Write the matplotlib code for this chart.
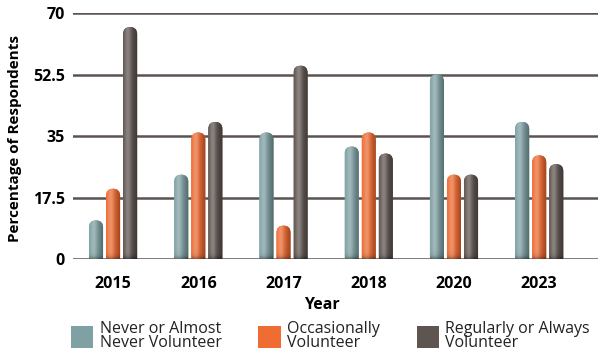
import numpy as np
import matplotlib
matplotlib.use("Agg")
import matplotlib.pyplot as plt
from matplotlib.patches import FancyBboxPatch, Patch
from matplotlib.colors import to_rgb

years = ["2015", "2016", "2017", "2018", "2020", "2023"]
never = [11, 24, 36, 32, 52.5, 39]
occasionally = [20, 36, 9.5, 36, 24, 29.5]
regularly = [66, 39, 55, 30, 24, 27]
series_names = ["Never or Almost\nNever Volunteer", "Occasionally\nVolunteer", "Regularly or Always\nVolunteer"]
series_colors = ["#7fa1a4", "#ef6c33", "#5f5550"]
yticks = [0, 17.5, 35, 52.5, 70]

plt.rcParams["font.family"] = ["Open Sans", "DejaVu Sans"]

W, H = 598, 353
fig = plt.figure(figsize=(W / 100, H / 100), dpi=100)
left, right, top, bottom = 73, 598, 13, 259
ax = fig.add_axes([left / W, (H - bottom) / H, (right - left) / W, (bottom - top) / H])

xmin, xmax = -0.47, 5.69
ymin, ymax = 0, 70
ax.set_xlim(xmin, xmax)
ax.set_ylim(ymin, ymax)

# aspect used so the rounded caps look like half circles on screen
x_per_px = (xmax - xmin) / (right - left)
y_per_px = (ymax - ymin) / (bottom - top)
asp = y_per_px / x_per_px

width = 0.165
offset = 0.2
x = np.arange(len(years))


def shaded(color, v, ny=200, nx=40):
    base = np.array(to_rgb(color))
    t = np.linspace(0, 1, nx)
    hi = np.exp(-((t - 0.32) / 0.22) ** 2)
    dark = 0.62 + 0.38 * (1 - t ** 2.2)
    img = base[None, :] * dark[:, None]
    img = img + (1 - img) * 0.28 * hi[:, None]
    img = np.repeat(img[None, :, :], ny, axis=0)
    # soft shadow at the foot of the bar
    yy = np.linspace(0, v, ny)
    shade = 1 - 0.4 * np.exp(-yy / 0.6)
    img = img * shade[:, None, None]
    return np.clip(img, 0, 1)


for i, (vals, col) in enumerate(zip([never, occasionally, regularly], series_colors)):
    for xi, v in zip(x + (i - 1) * offset, vals):
        x0 = xi - width / 2
        patch = FancyBboxPatch((x0, -5), width, v + 5,
                               boxstyle=f"round,pad=0,rounding_size={width / 2}",
                               mutation_aspect=asp, facecolor=col, edgecolor="none", zorder=3)
        ax.add_patch(patch)
        im = ax.imshow(shaded(col, v), extent=[x0, x0 + width, 0, v], origin="lower",
                       aspect="auto", zorder=4, interpolation="bilinear")
        im.set_clip_path(patch)

ax.set_xlim(xmin, xmax)
ax.set_ylim(ymin, ymax)

for s in ax.spines.values():
    s.set_visible(False)
ax.set_yticks(yticks)
ax.set_yticklabels(["0", "17.5", "35", "52.5", "70"])
ax.yaxis.grid(True, color="#5b5350", linewidth=1.8, zorder=1)
ax.set_axisbelow(True)
ax.tick_params(axis="y", length=0, pad=6, labelsize=11.5)
ax.set_xticks(x)
ax.set_xticklabels(years)
ax.tick_params(axis="x", length=0, pad=12, labelsize=11.5)
for lab in ax.get_xticklabels() + ax.get_yticklabels():
    lab.set_fontweight("bold")

fig.text(322 / W, 1 - 305 / H, "Year", ha="center", va="center", fontsize=11.5, fontweight="bold")
fig.text(15 / W, 1 - 138 / H, "Percentage of Respondents", rotation=90, ha="center", va="center",
         fontsize=11, fontweight="bold")

handles = [Patch(facecolor=c, edgecolor="none") for c in series_colors]
leg = fig.legend(handles, series_names, ncol=3, loc="lower left", bbox_to_anchor=(58 / W, -11 / H),
                 frameon=False, fontsize=11.5, handlelength=1.4, handleheight=1.75,
                 handletextpad=0.4, columnspacing=2.3, borderpad=0.3)
for t in leg.get_texts():
    t.set_linespacing(0.85)
    t.set_color("#222222")

fig.savefig("out.png", dpi=100)
